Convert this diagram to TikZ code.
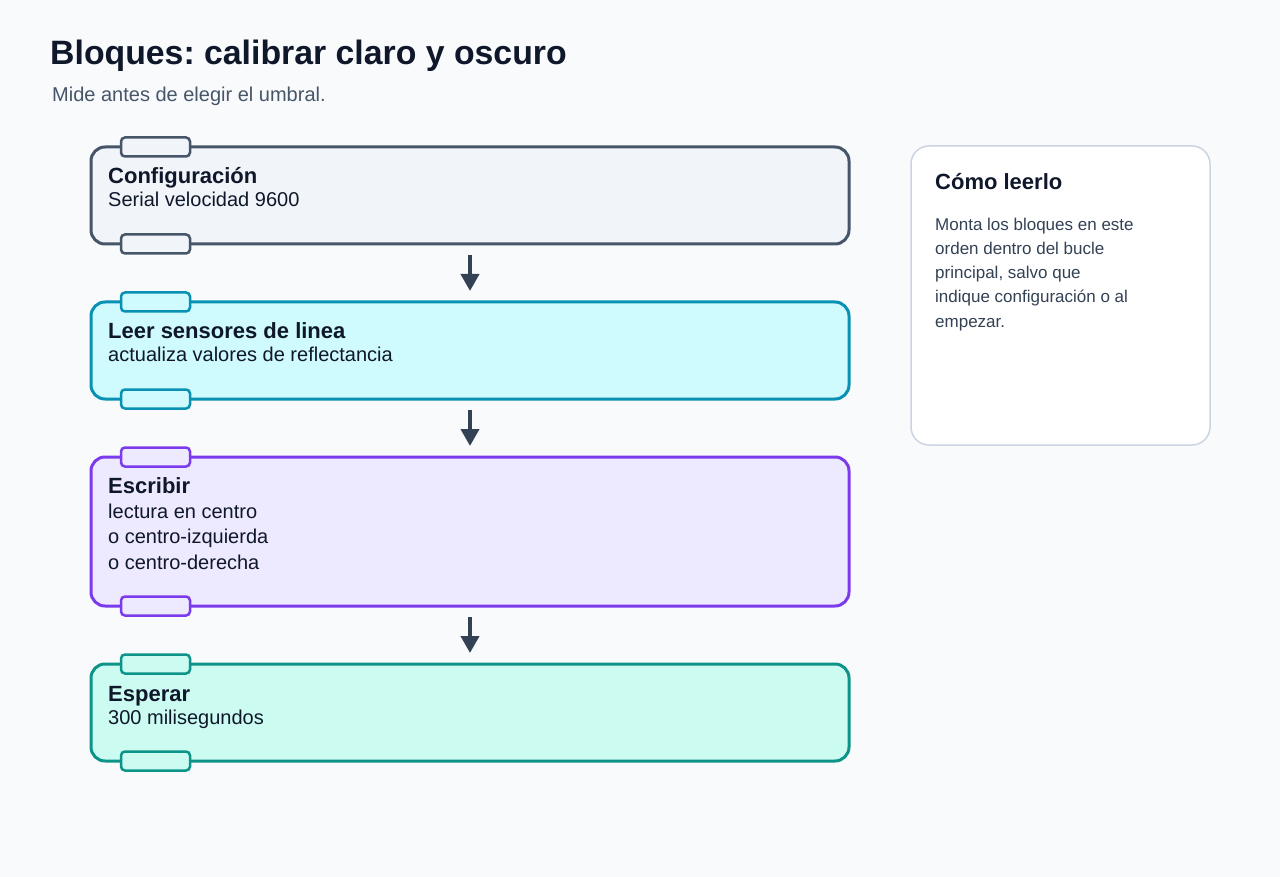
\documentclass[tikz,border=0pt]{standalone}
\usepackage{fontspec}
\setmainfont{Liberation Sans}
\usetikzlibrary{arrows.meta}
\frenchspacing
\definecolor{bg}{HTML}{F8FAFC}
\definecolor{ink}{HTML}{0F172A}
\definecolor{sub}{HTML}{475569}
\definecolor{panelink}{HTML}{334155}
\definecolor{arrowc}{HTML}{334155}
\definecolor{sA}{HTML}{475569}\definecolor{fA}{HTML}{F1F5F9}
\definecolor{sB}{HTML}{0891B2}\definecolor{fB}{HTML}{CFFAFE}
\definecolor{sC}{HTML}{7C3AED}\definecolor{fC}{HTML}{EDE9FE}
\definecolor{sD}{HTML}{0D9488}\definecolor{fD}{HTML}{CCFBF1}
\definecolor{panelb}{HTML}{CBD5E1}
\tikzset{
  block/.style={draw=#1, line width=3pt, rounded corners=14pt, minimum width=758pt, outer sep=0pt, inner sep=0pt},
  tab/.style={draw=#1, line width=2.5pt, rounded corners=4pt, minimum width=69pt, minimum height=19pt, outer sep=0pt, inner sep=0pt},
  btitle/.style={anchor=base west, inner sep=0pt, font=\fontsize{22}{26}\selectfont\bfseries, text=ink},
  bbody/.style={anchor=base west, inner sep=0pt, font=\fontsize{20}{26}\selectfont, text=ink, align=left},
  ptext/.style={anchor=base west, inner sep=0pt, font=\fontsize{17}{24}\selectfont, text=panelink},
  arr/.style={draw=arrowc, line width=4pt, -{Triangle[width=18pt,length=17pt]}, shorten <=11pt, shorten >=11pt},
}
\begin{document}
\begin{tikzpicture}[x=1pt,y=-1pt]
\useasboundingbox (0,0) rectangle (1280,877);
\fill[bg] (0,0) rectangle (1280,877);
\node[anchor=base west, inner sep=0pt, font=\fontsize{33.8}{40}\selectfont\bfseries, text=ink] (title) at (50,65) {Bloques: calibrar claro y oscuro};
\node[anchor=base west, inner sep=0pt, font=\fontsize{20}{24}\selectfont, text=sub] (subtitle) at (52,102) {Mide antes de elegir el umbral.};

% blocks
\node[block=sA, fill=fA, minimum height=97pt] (b1) at (470,195.5) {};
\node[tab=sA, fill=fA] (b1t) at (155.5,147) {};
\node[tab=sA, fill=fA] (b1b) at (155.5,244) {};
\node[btitle] (b1h) at (108,184) {Configuración};
\node[bbody] (b1x) at (108,207) {Serial velocidad 9600};

\node[block=sB, fill=fB, minimum height=97pt] (b2) at (470,350.5) {};
\node[tab=sB, fill=fB] (b2t) at (155.5,302) {};
\node[tab=sB, fill=fB] (b2b) at (155.5,399) {};
\node[btitle] (b2h) at (108,339) {Leer sensores de linea};
\node[bbody] (b2x) at (108,362) {actualiza valores de reflectancia};

\node[block=sC, fill=fC, minimum height=149pt] (b3) at (470,531.5) {};
\node[tab=sC, fill=fC] (b3t) at (155.5,457) {};
\node[tab=sC, fill=fC] (b3b) at (155.5,606) {};
\node[btitle] (b3h) at (108,493.5) {Escribir};
\node[bbody] (b3x1) at (108,518) {lectura en centro};
\node[bbody] (b3x2) at (108,543.5) {o centro-izquierda};
\node[bbody] (b3x3) at (108,569) {o centro-derecha};

\node[block=sD, fill=fD, minimum height=97pt] (b4) at (470,712.5) {};
\node[tab=sD, fill=fD] (b4t) at (155.5,664) {};
\node[tab=sD, fill=fD] (b4b) at (155.5,761) {};
\node[btitle] (b4h) at (108,701) {Esperar};
\node[bbody] (b4x) at (108,724) {300 milisegundos};

\draw[arr] (b1.south) -- (b2.north);
\draw[arr] (b2.south) -- (b3.north);
\draw[arr] (b3.south) -- (b4.north);

% side panel
\node[draw=panelb, fill=white, line width=1.5pt, rounded corners=18pt, minimum width=299pt, minimum height=299pt, outer sep=0pt] (panel) at (1060.5,295.5) {};
\node[anchor=base west, inner sep=0pt, font=\fontsize{22}{26}\selectfont\bfseries, text=ink] (ph) at (935,190) {Cómo leerlo};
\node[ptext] (pb1) at (935,231) {Monta los bloques en este};
\node[ptext] (pb2) at (935,255) {orden dentro del bucle};
\node[ptext] (pb3) at (935,279) {principal, salvo que};
\node[ptext] (pb4) at (935,303) {indique configuración o al};
\node[ptext] (pb5) at (935,327) {empezar.};
\end{tikzpicture}
\end{document}
